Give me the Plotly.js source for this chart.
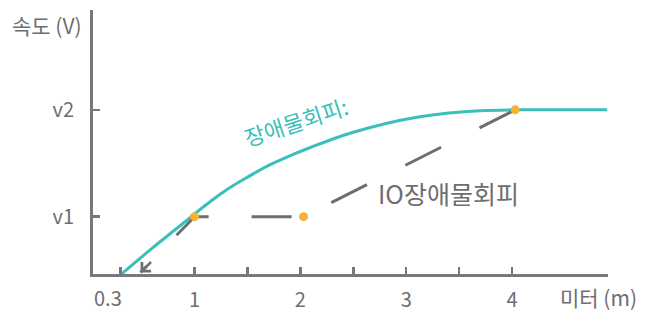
<!DOCTYPE html>
<html><head><meta charset="utf-8">
<script src="https://cdn.plot.ly/plotly-3.0.1.min.js"></script>
<style>html,body{margin:0;padding:0;background:#fff}</style>
</head><body><div id="chart" style="width:649px;height:312px"></div>
<script>
// teal curve: 장애물회피
const curveX = [0.3, 0.6, 0.9, 1.1, 1.3, 1.5, 1.7, 1.9, 2.1, 2.3, 2.5, 2.8, 3.1, 3.4, 3.7, 4.0, 4.9];
const curveY = [0.455, 0.705, 0.945, 1.105, 1.25, 1.37, 1.48, 1.57, 1.65, 1.725, 1.79, 1.87, 1.93, 1.97, 1.992, 2.0, 2.0];
// gray dashed path: IO장애물회피 (drawn from the top point back to the arrow tip)
const pathX = [4.03, 2.03, 1.0, 0.489];
const pathY = [2.0, 1.0, 1.0, 0.477];
// orange points
const pointX = [1.0, 2.03, 4.03];
const pointY = [1.0, 1.0, 2.0];
// ticks
const xTickVals = [0.3, 1, 1.5, 2, 2.5, 3, 3.5, 4];
const xTickText = ["", "1", "", "2", "", "3", "", "4"];
const yTickVals = [1, 2];
const yTickText = ["v1", "v2"];

const FONT = '"Noto Sans CJK KR", "Noto Sans", sans-serif';
const GRAY = '#6d6e71';
const AXIS = '#77787b';
const TEAL = '#3bbfbb';
const ORANGE = '#f5b335';

const traces = [
  {x: curveX, y: curveY, mode: 'lines', line: {color: TEAL, width: 3, shape: 'spline', smoothing: 1}, hoverinfo: 'skip'},
  {x: pathX, y: pathY, mode: 'lines', line: {color: GRAY, width: 3, dash: '40px,43px'}, hoverinfo: 'skip'},
  {x: pointX, y: pointY, mode: 'markers', marker: {color: ORANGE, size: 9}, hoverinfo: 'skip'}
];

const axisCommon = {
  showline: true, linecolor: AXIS, linewidth: 3,
  ticks: 'inside', ticklen: 7, tickwidth: 2.5, tickcolor: AXIS,
  showgrid: false, zeroline: false, fixedrange: true,
  tickfont: {family: FONT, size: 20, color: GRAY}
};

const layout = {
  width: 649, height: 312,
  margin: {l: 93, r: 41, t: 10, b: 38},
  paper_bgcolor: '#fff', plot_bgcolor: '#fff',
  showlegend: false,
  font: {family: FONT, color: GRAY},
  xaxis: Object.assign({}, axisCommon, {range: [0.04, 4.907], tickmode: 'array', tickvals: xTickVals, ticktext: xTickText, ticklabelstandoff: 6}),
  yaxis: Object.assign({}, axisCommon, {range: [0.463, 2.935], tickmode: 'array', tickvals: yTickVals, ticktext: yTickText, ticklabelstandoff: 12}),
  annotations: [
    {xref: 'paper', yref: 'paper', x: -0.0884, y: 0.943, text: '속도 (V)', showarrow: false, xanchor: 'center', yanchor: 'middle', font: {family: FONT, size: 21, color: GRAY}},
    {xref: 'paper', yref: 'paper', x: 0.9806, y: -0.0888, text: '미터 (m)', showarrow: false, xanchor: 'center', yanchor: 'middle', font: {family: FONT, size: 21, color: GRAY}},
    {xref: 'paper', yref: 'paper', x: 0.029, y: -0.088, text: '0.3', showarrow: false, xanchor: 'center', yanchor: 'middle', font: {family: FONT, size: 20, color: GRAY}},
    {x: 1.955, y: 1.897, text: '장애물회피:', showarrow: false, textangle: -18, xanchor: 'center', yanchor: 'middle', font: {family: FONT, size: 22, color: TEAL}},
    {x: 3.403, y: 1.224, text: 'IO장애물회피', showarrow: false, xanchor: 'center', yanchor: 'middle', font: {family: FONT, size: 25, color: GRAY}},
    {x: 0.489, y: 0.477, text: '', showarrow: true, arrowhead: 4, arrowsize: 1, arrowwidth: 2.5, arrowcolor: GRAY, ax: 12, ay: -12, standoff: 0}
  ]
};

Plotly.newPlot('chart', traces, layout, {staticPlot: true, displayModeBar: false});
</script></body></html>
